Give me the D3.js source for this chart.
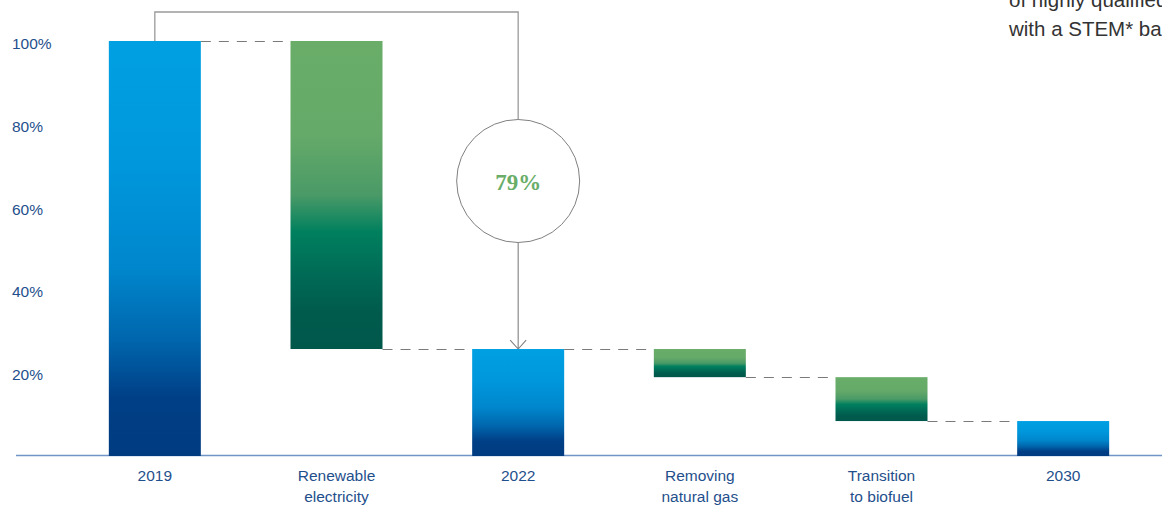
<!DOCTYPE html>
<html>
<head>
<meta charset="utf-8">
<script src="https://cdn.jsdelivr.net/npm/d3@7"></script>
<style>
  html, body { margin: 0; padding: 0; background: #fff; overflow: hidden; }
  svg { display: block; font-family: "Liberation Sans", Arial, sans-serif; }
</style>
</head>
<body>
<script>
// waterfall data
var categories = ["2019", "Renewable electricity", "2022", "Removing natural gas", "Transition to biofuel", "2030"];
var labelLines = [["2019"], ["Renewable", "electricity"], ["2022"], ["Removing", "natural gas"], ["Transition", "to biofuel"], ["2030"]];
var kinds = ["total", "change", "total", "change", "change", "total"];
var values = [100, -74.4, 25.6, -6.8, -10.6, 8.2];
var yTicks = [20, 40, 60, 80, 100];
var reductionLabel = "79%";
var sideText = ["of highly qualified employees", "with a STEM* background"];

var W = 1162, H = 506;
var svg = d3.select("body").append("svg").attr("width", W).attr("height", H);

var x = d3.scalePoint().domain(categories).range([64, 1154]).padding(0.5);
var y = d3.scaleLinear().domain([0, 100]).range([455, 41]);
var barW = 92;

// build start/end for each bar
var run = 0;
var bars = categories.map(function(c, i) {
  var s, e;
  if (kinds[i] == "total") { s = 0; e = values[i]; }
  else { s = run; e = run + values[i]; }
  run = e;
  return { cat: c, i: i, kind: kinds[i], start: s, end: e, lines: labelLines[i] };
});

var defs = svg.append("defs");
var blue = defs.append("linearGradient").attr("id", "gBlue")
  .attr("x1", 0).attr("y1", 0).attr("x2", 0).attr("y2", 1);
[[0, "#00a0e3"], [0.3, "#0097dc"], [0.55, "#0086cc"], [0.72, "#0066ad"], [0.86, "#003f86"], [1, "#003b80"]]
  .forEach(function(s) { blue.append("stop").attr("offset", s[0]).attr("stop-color", s[1]); });
var green = defs.append("linearGradient").attr("id", "gGreen")
  .attr("x1", 0).attr("y1", 0).attr("x2", 0).attr("y2", 1);
[[0, "#69ad69"], [0.3, "#66aa69"], [0.5, "#4a9a67"], [0.62, "#00805e"], [0.76, "#006a56"], [0.88, "#005b4d"], [1, "#00584b"]]
  .forEach(function(s) { green.append("stop").attr("offset", s[0]).attr("stop-color", s[1]); });

// baseline
svg.append("line")
  .attr("x1", 16).attr("x2", W)
  .attr("y1", y(0) + 0.5).attr("y2", y(0) + 0.5)
  .attr("stroke", "#7196c6").attr("stroke-width", 1.3);

// y labels
svg.selectAll(".ylab").data(yTicks).enter().append("text")
  .attr("class", "ylab")
  .attr("x", 12)
  .attr("y", function(d) { return y(d) + 8; })
  .attr("fill", "#1f4f8c")
  .style("font-size", "15.5px")
  .text(function(d) { return d + "%"; });

// dashed connectors
var conn = bars.slice(0, -1).map(function(b, i) {
  return { x1: x(b.cat) + barW / 2, x2: x(categories[i + 1]) - barW / 2, v: b.end };
});
svg.selectAll(".conn").data(conn).enter().append("line")
  .attr("class", "conn")
  .attr("x1", function(d) { return d.x1; })
  .attr("x2", function(d) { return d.x2; })
  .attr("y1", function(d) { return Math.round(y(d.v)) + 0.5; })
  .attr("y2", function(d) { return Math.round(y(d.v)) + 0.5; })
  .attr("stroke", "#7a7a7a").attr("stroke-width", 1.2)
  .attr("stroke-dasharray", "10,8");

// bracket from 2019 to 2022 with circle
var xa = x(categories[0]), xb = x(categories[2]);
var topY = 12, cy = 181, r = 61.5;
svg.append("path")
  .attr("d", "M" + xa + "," + y(100) + "V" + topY + "H" + xb + "V" + (cy - r))
  .attr("fill", "none").attr("stroke", "#9a9a9a").attr("stroke-width", 1.3);
svg.append("circle")
  .attr("cx", xb).attr("cy", cy).attr("r", r)
  .attr("fill", "#fff").attr("stroke", "#808080").attr("stroke-width", 1);
var tipY = y(bars[2].end);
svg.append("path")
  .attr("d", "M" + xb + "," + (cy + r) + "V" + tipY + "M" + (xb - 8) + "," + (tipY - 9) + "L" + xb + "," + tipY + "L" + (xb + 8) + "," + (tipY - 9))
  .attr("fill", "none").attr("stroke", "#808080").attr("stroke-width", 1.1);
svg.append("text")
  .attr("x", xb).attr("y", cy + 9)
  .attr("text-anchor", "middle")
  .attr("fill", "#69ad69")
  .style("font-family", "'Liberation Serif', 'DejaVu Serif', serif")
  .style("font-weight", "bold")
  .style("font-size", "23px")
  .text(reductionLabel);

// bars
svg.selectAll(".bar").data(bars).enter().append("rect")
  .attr("class", "bar")
  .attr("x", function(d) { return x(d.cat) - barW / 2; })
  .attr("width", barW)
  .attr("y", function(d) { return y(Math.max(d.start, d.end)); })
  .attr("height", function(d) { return Math.abs(y(d.start) - y(d.end)) + (d.kind == "total" ? 1 : 0); })
  .attr("fill", function(d) { return d.kind == "total" ? "url(#gBlue)" : "url(#gGreen)"; });

// x labels
var xl = svg.selectAll(".xlab").data(bars).enter().append("text")
  .attr("class", "xlab")
  .attr("text-anchor", "middle")
  .attr("fill", "#1f4f8c")
  .style("font-size", "15.5px");
xl.selectAll("tspan").data(function(d) { return d.lines.map(function(t) { return { t: t, c: d.cat }; }); })
  .enter().append("tspan")
  .attr("x", function(d) { return x(d.c); })
  .attr("y", function(d, i) { return 481 + i * 21; })
  .text(function(d) { return d.t; });

// text cut by the right edge, as in the source picture
svg.selectAll(".side").data(sideText).enter().append("text")
  .attr("class", "side")
  .attr("x", 1009)
  .attr("y", function(d, i) { return 7 + i * 29; })
  .attr("fill", "#333")
  .style("font-size", "20.5px")
  .text(function(d) { return d; });
</script>
</body>
</html>
